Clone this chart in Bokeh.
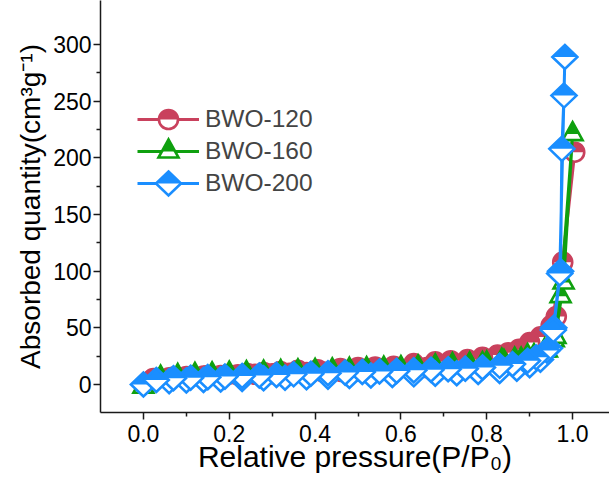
from bokeh.plotting import figure
from bokeh.models import (ColumnDataSource, Range1d, FixedTicker, PrintfTickFormatter,
                          Legend, LegendItem, CustomJS, Scatter)
from bokeh.embed import file_html
from bokeh.resources import INLINE

# ---------------- data ----------------
x_ticks = [0.0, 0.2, 0.4, 0.6, 0.8, 1.0]
x_minor = [0.1, 0.3, 0.5, 0.7, 0.9]
y_ticks = [0, 50, 100, 150, 200, 250, 300]
y_minor = [25, 75, 125, 175, 225, 275]

labels = ["BWO-120", "BWO-160", "BWO-200"]

bwo120_ads_x = [0.02, 0.06, 0.10, 0.14, 0.18, 0.22, 0.26, 0.30, 0.34, 0.38, 0.42, 0.46, 0.50,
                0.54, 0.58, 0.62, 0.66, 0.70, 0.74, 0.78, 0.82, 0.86, 0.89, 0.92, 0.945, 0.962, 1.005]
bwo120_ads_y = [4, 6, 7, 7.5, 8, 8.5, 9, 9.5, 10, 10.5, 11, 11.5, 12,
                12.5, 13, 14, 15, 16, 17, 18.5, 20, 23, 27, 33, 42, 60, 205]
bwo120_des_x = [0.977, 0.95, 0.925, 0.90, 0.875, 0.85, 0.825, 0.79, 0.755, 0.716, 0.68, 0.63,
                0.583, 0.54, 0.50, 0.459, 0.406, 0.36, 0.319, 0.28, 0.242, 0.196, 0.15, 0.11, 0.07, 0.023]
bwo120_des_y = [108, 52, 42, 37, 31, 28, 26, 24, 22, 21, 20, 18.5,
                16, 15.5, 15, 14, 13, 12.5, 11.5, 10.5, 9.7, 8.8, 8, 7, 6.5, 5.3]

bwo160_ads_x = [0.0, 0.04, 0.08, 0.12, 0.16, 0.20, 0.24, 0.28, 0.32, 0.36, 0.40, 0.44, 0.48, 0.52,
                0.56, 0.60, 0.64, 0.68, 0.72, 0.76, 0.80, 0.84, 0.88, 0.91, 0.94, 0.956, 0.972, 1.0]
bwo160_ads_y = [-2, 4, 6, 7, 7.5, 8, 8.5, 9, 9.5, 10, 10.5, 11, 11.5, 12,
                12.5, 13, 14, 15, 16, 17, 18.5, 20, 22, 25, 30, 39, 78, 221]
bwo160_des_x = [0.979, 0.96, 0.935, 0.895, 0.865, 0.835, 0.79, 0.76, 0.72, 0.68, 0.64, 0.60, 0.56,
                0.52, 0.48, 0.44, 0.40, 0.36, 0.32, 0.28, 0.24, 0.20, 0.16, 0.12, 0.08, 0.04]
bwo160_des_y = [90, 42, 30, 25, 22, 21, 18, 17.5, 17, 16, 15, 14.5, 14,
                13.5, 13, 12.5, 12, 11.5, 11, 10.5, 10, 9.5, 9, 8.5, 7.5, 6]

bwo200_ads_x = [0.0, 0.06, 0.10, 0.14, 0.18, 0.23, 0.28, 0.33, 0.38, 0.43, 0.48, 0.53, 0.58, 0.63,
                0.68, 0.73, 0.78, 0.83, 0.87, 0.90, 0.925, 0.946, 0.956, 0.972, 0.975, 0.980, 0.982]
bwo200_ads_y = [0, 3, 3.5, 4, 4.5, 5, 5.5, 6, 6.5, 7, 7.5, 8, 8.5, 9,
                9.5, 10, 11, 12, 14, 17, 22, 32, 50, 100, 208, 255, 289]
bwo200_des_x = [0.97, 0.955, 0.94, 0.915, 0.895, 0.86, 0.83, 0.79, 0.75, 0.71, 0.67, 0.63, 0.59,
                0.55, 0.51, 0.47, 0.43, 0.39, 0.35, 0.31, 0.27, 0.23, 0.19, 0.15, 0.11, 0.07, 0.03]
bwo200_des_y = [98, 48, 30, 24, 21, 18, 16.5, 15, 14, 13.5, 13, 12.5, 12,
                11.5, 11, 10.5, 10, 9.5, 9, 8.5, 8, 7.5, 7, 6.5, 6, 5.5, 4]

colors = ["#C9415D", "#0FA00F", "#1A8EFF"]

# ---------------- figure ----------------
p = figure(width=609, height=477, output_backend="svg", toolbar_location=None,
           x_range=Range1d(-0.1, 1.086), y_range=Range1d(-24.7, 338.9),
           min_border_left=100, min_border_right=0, min_border_top=0, min_border_bottom=65)
p.outline_line_color = None
p.grid.visible = False
p.background_fill_color = "white"

FONT = "Liberation Sans"
for ax in (p.xaxis[0], p.yaxis[0]):
    ax.axis_line_width = 1.5
    ax.axis_line_color = "#1a1a1a"
    ax.major_tick_line_width = 1.5
    ax.minor_tick_line_width = 1.5
    ax.major_tick_line_color = "#1a1a1a"
    ax.minor_tick_line_color = "#1a1a1a"
    ax.major_tick_in = 0
    ax.major_tick_out = 7
    ax.minor_tick_in = 0
    ax.minor_tick_out = 4
    ax.major_label_text_font = FONT
    ax.major_label_text_font_size = "23px"
    ax.major_label_text_color = "black"
    ax.axis_label_text_font = FONT
    ax.axis_label_text_font_style = "normal"
    ax.axis_label_text_color = "black"

p.xaxis.axis_label_text_font_size = "30px"
p.yaxis.axis_label_text_font_size = "28px"
p.xaxis.ticker = FixedTicker(ticks=x_ticks, minor_ticks=x_minor)
p.xaxis.formatter = PrintfTickFormatter(format="%.1f")
p.yaxis.ticker = FixedTicker(ticks=y_ticks, minor_ticks=y_minor)
p.xaxis.axis_label = "Relative pressure(P/P\u2080)"
p.yaxis.axis_label = "Absorbed quantity(cm\u00b3g\u207b\u00b9)"
p.xaxis.major_label_standoff = 5
p.yaxis.major_label_standoff = 2
p.xaxis.axis_label_standoff = -5
p.yaxis.axis_label_standoff = 4

JS = """
export default (args, obj, data) => {
  const ctx = data.ctx
  const c = args.color
  const lw = args.lw
  ctx.lineJoin = "miter"
  const full = () => {
    ctx.beginPath()
    if (args.kind == "circle") {
      ctx.arc(0, 0, args.R, 0, 2*Math.PI, false)
    } else if (args.kind == "tri") {
      ctx.moveTo(0, -2*args.h/3); ctx.lineTo(args.w, args.h/3); ctx.lineTo(-args.w, args.h/3)
    } else {
      ctx.moveTo(0, -args.h); ctx.lineTo(args.w, 0); ctx.lineTo(0, args.h); ctx.lineTo(-args.w, 0)
    }
    ctx.closePath()
  }
  const top = () => {
    ctx.beginPath()
    if (args.kind == "circle") {
      ctx.arc(0, 0, args.R, Math.PI, 2*Math.PI, false)
    } else if (args.kind == "tri") {
      ctx.moveTo(0, -2*args.h/3); ctx.lineTo(2*args.w/3, 0); ctx.lineTo(-2*args.w/3, 0)
    } else {
      ctx.moveTo(0, -args.h); ctx.lineTo(args.w, 0); ctx.lineTo(-args.w, 0)
    }
    ctx.closePath()
  }
  full(); ctx.fillStyle = "#ffffff"; ctx.fill()
  top(); ctx.fillStyle = c; ctx.fill()
  full(); ctx.lineWidth = lw; ctx.strokeStyle = c; ctx.stroke()
  ctx.beginPath()
}
"""

series = [
    (bwo120_ads_x + bwo120_des_x, bwo120_ads_y + bwo120_des_y,
     dict(kind="circle", R=9.5, w=0, h=0, lw=2.6)),
    (bwo160_ads_x + bwo160_des_x, bwo160_ads_y + bwo160_des_y,
     dict(kind="tri", R=0, w=10, h=18, lw=2.6)),
    (bwo200_ads_x + bwo200_des_x, bwo200_ads_y + bwo200_des_y,
     dict(kind="dia", R=0, w=12.5, h=12, lw=2.6)),
]

has_defs = "defs" in Scatter.properties()
fallback = ["circle", "triangle", "diamond"]

items = []
for k, ((xs, ys, spec), col, lab) in enumerate(zip(series, colors, labels)):
    src = ColumnDataSource(dict(x=xs, y=ys))
    lr = p.line("x", "y", source=src, line_color=col, line_width=3)
    if has_defs:
        args = dict(spec)
        args["color"] = col
        name = "@m%d" % k
        sr = p.scatter("x", "y", source=src, marker=name, size=22,
                       defs={name: CustomJS(args=args, code=JS)},
                       fill_color=col, line_color=col)
    else:
        sr = p.scatter("x", "y", source=src, marker=fallback[k], size=20,
                       fill_color=col, line_color=col, line_width=2.5)
    items.append(LegendItem(label=lab, renderers=[lr, sr]))

legend = Legend(items=items, location=(27, 204), glyph_width=62, glyph_height=30,
                label_height=30, spacing=2, label_standoff=6, padding=10, margin=0,
                label_text_font=FONT, label_text_font_size="24.5px",
                border_line_alpha=0, background_fill_alpha=0)
p.add_layout(legend)

open("out.html", "w").write(file_html(p, INLINE))
